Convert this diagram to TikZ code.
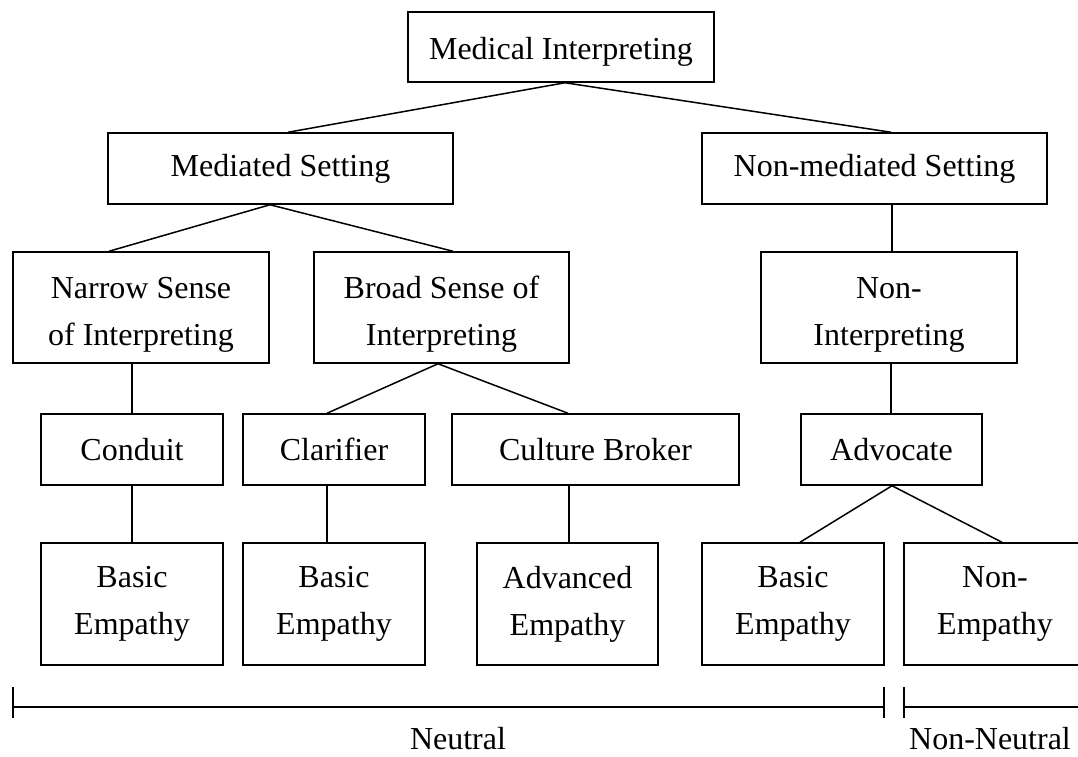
\documentclass[tikz,border=0pt]{standalone}
\usepackage{fontspec}
\setmainfont{Liberation Serif}
\newcommand{\topstrut}{\rule{0pt}{36pt}}
\begin{document}
\begin{tikzpicture}[x=1pt,y=-1pt,
  box/.style={draw, line width=1.5pt, inner sep=0pt, align=center, font=\fontsize{32}{47}\selectfont},
  one/.style={box, minimum height=71pt},
  two/.style={box, minimum height=111pt},
  leaf/.style={box, minimum width=182pt, minimum height=122pt},
  conn/.style={line width=1.5pt},
  lbl/.style={font=\fontsize{32}{38}\selectfont, inner sep=0pt}]
\useasboundingbox (0,0) rectangle (1078,756);
% boxes
\node[one, minimum width=306pt, minimum height=70pt] (med) at (561,47) {\raisebox{-5pt}[\height][\depth]{Medical Interpreting}};
\node[one, minimum width=345pt] (mediated) at (280.5,168.5) {Mediated Setting};
\node[one, minimum width=345pt] (nonmed) at (874.5,168.5) {Non-mediated Setting};
\node[two, minimum width=256pt] (narrow) at (141,307.5) {\topstrut Narrow Sense\\of Interpreting};
\node[two, minimum width=255pt] (broad) at (441.5,307.5) {\topstrut Broad Sense of\\Interpreting};
\node[two, minimum width=256pt] (nonint) at (889,307.5) {\topstrut Non-\\Interpreting};
\node[one, minimum width=182pt] (conduit) at (132,449.5) {Conduit};
\node[one, minimum width=182pt] (clarifier) at (334,449.5) {Clarifier};
\node[one, minimum width=287pt] (culture) at (595.5,449.5) {Culture Broker};
\node[one, minimum width=181pt] (advocate) at (891.5,449.5) {Advocate};
\node[leaf] (be1) at (132,604) {Basic\\Empathy};
\node[leaf] (be2) at (334,604) {Basic\\Empathy};
\node[leaf, minimum width=181pt] (adv) at (567.5,604) {Advanced\\Empathy};
\node[leaf] (be3) at (793,604) {Basic\\Empathy};
\node[leaf] (nonemp) at (995,604) {Non-\\Empathy};
% connectors
\draw[conn] ([xshift=4pt]med.south) -- ([xshift=7.5pt]mediated.north);
\draw[conn] ([xshift=4pt]med.south) -- ([xshift=16.5pt]nonmed.north);
\draw[conn] ([xshift=-10.5pt]mediated.south) -- ([xshift=-32pt]narrow.north);
\draw[conn] ([xshift=-10.5pt]mediated.south) -- ([xshift=11.5pt]broad.north);
\draw[conn] ([xshift=-9pt]narrow.south) -- (conduit.north);
\draw[conn] ([xshift=-3.5pt]broad.south) -- ([xshift=-7pt]clarifier.north);
\draw[conn] ([xshift=-3.5pt]broad.south) -- ([xshift=-27.5pt]culture.north);
\draw[conn] (conduit.south) -- (be1.north);
\draw[conn] ([xshift=-7pt]clarifier.south) -- ([xshift=-7pt]be2.north);
\draw[conn] ([xshift=-26.5pt]culture.south) -- ([xshift=1.5pt]adv.north);
\draw[conn] ([xshift=17.5pt]nonmed.south) -- ([xshift=3pt]nonint.north);
\draw[conn] ([xshift=2pt]nonint.south) -- ([xshift=-0.5pt]advocate.north);
\draw[conn] ([xshift=0.5pt]advocate.south) -- ([xshift=7pt]be3.north);
\draw[conn] ([xshift=0.5pt]advocate.south) -- ([xshift=7pt]nonemp.north);
% brackets
\coordinate (nl) at (13,707);
\coordinate (nr) at (884,707);
\coordinate (ml) at (904,707);
\coordinate (mr) at (1090,707);
\draw[conn] (nl) -- (nr);
\draw[conn] ([yshift=20pt]nl) -- ([yshift=-11pt]nl);
\draw[conn] ([yshift=20pt]nr) -- ([yshift=-11pt]nr);
\draw[conn] (ml) -- (mr);
\draw[conn] ([yshift=20pt]ml) -- ([yshift=-11pt]ml);
\node[lbl] (neutral) at (458,739) {Neutral};
\node[lbl] (nonneutral) at (990,739) {Non-Neutral};
\end{tikzpicture}
\end{document}
